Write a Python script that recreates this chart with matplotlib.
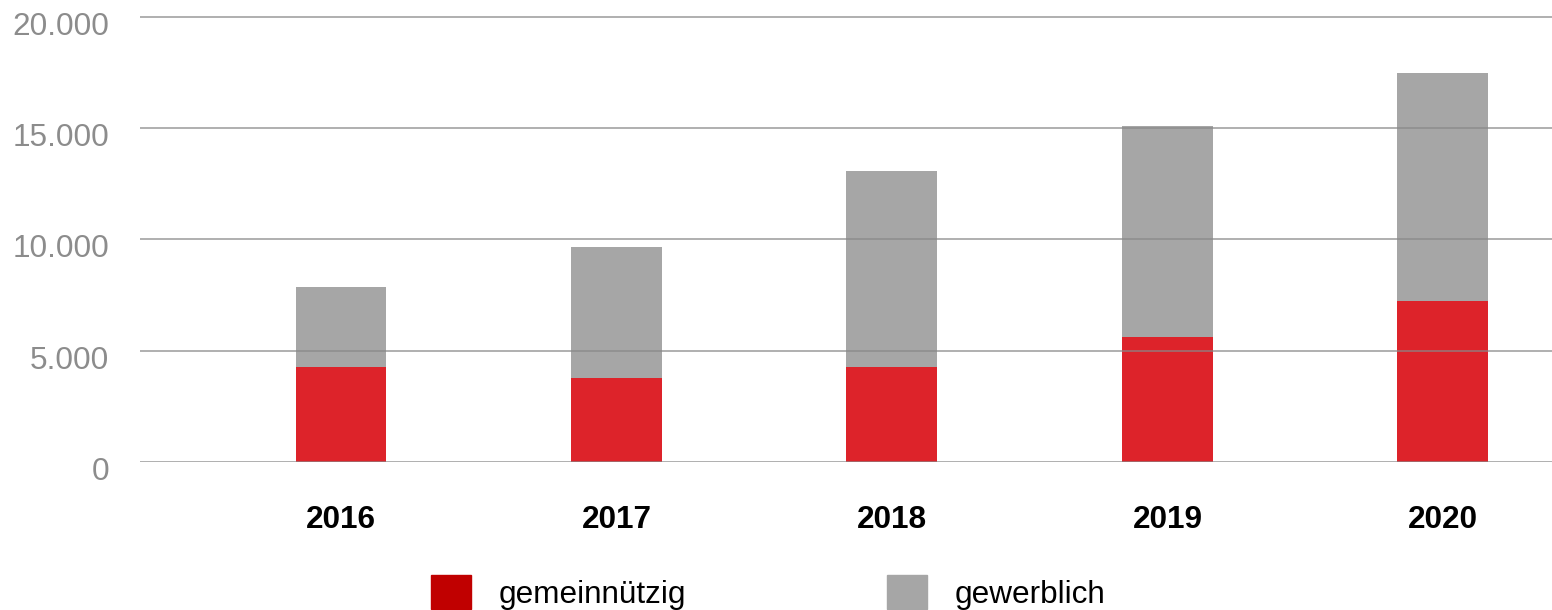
import numpy as np
import matplotlib
matplotlib.use('Agg')
import matplotlib.pyplot as plt
import matplotlib.transforms as mtransforms
from matplotlib.patches import Patch
from matplotlib.ticker import FuncFormatter

plt.rcParams['font.family'] = ['Liberation Sans', 'DejaVu Sans']

# Data
years = ['2016', '2017', '2018', '2019', '2020']
gemeinnuetzig = [4270, 3780, 4270, 5620, 7240]
gewerblich = [3600, 5880, 8810, 9480, 10240]
series_labels = ['gemeinnützig', 'gewerblich']
yticks = [0, 5000, 10000, 15000, 20000]

red = '#DD232A'
red_legend = '#C00000'
grey = '#A6A6A6'

fig = plt.figure(figsize=(15.52, 6.10), dpi=100)
ax = fig.add_axes([140 / 1552, 1 - 462 / 610, 1412 / 1552, (462 - 8) / 610])

x = np.arange(len(years))
ax.bar(x, gemeinnuetzig, width=0.33, color=red, zorder=1)
ax.bar(x, gewerblich, width=0.33, bottom=gemeinnuetzig, color=grey, zorder=1)

ax.set_xlim(-0.7296, 4.396)
ax.set_ylim(0, 20400)
ax.set_yticks(yticks)
ax.yaxis.set_major_formatter(FuncFormatter(lambda v, p: f'{int(v):,}'.replace(',', '.')))
ax.set_xticks(x)
ax.set_xticklabels(years, fontweight='bold')

ax.grid(axis='y', color='#888888', alpha=0.85, linewidth=1.1, zorder=3)
ax.set_axisbelow(False)
for s in ax.spines.values():
    s.set_visible(False)

ax.tick_params(axis='y', length=0, pad=22, labelsize=22.7, labelcolor='#8c8c8c')
ax.tick_params(axis='x', length=0, pad=31, labelsize=22.7, labelcolor='black')

# y labels sit a little below their gridlines in the reference
shift = mtransforms.ScaledTranslation(0, -0.065, fig.dpi_scale_trans)
for lab in ax.get_yticklabels():
    lab.set_transform(lab.get_transform() + shift)

handles = [Patch(color=red_legend), Patch(color=grey)]
fig.legend(handles, series_labels, loc='upper left', bbox_to_anchor=(431 / 1552, 1 - 575 / 610),
           ncol=2, frameon=False, fontsize=22.7, borderpad=0, borderaxespad=0,
           handlelength=1.27, handleheight=1.3, handletextpad=0.86, columnspacing=6.4)

fig.savefig('out.png', dpi=100)
